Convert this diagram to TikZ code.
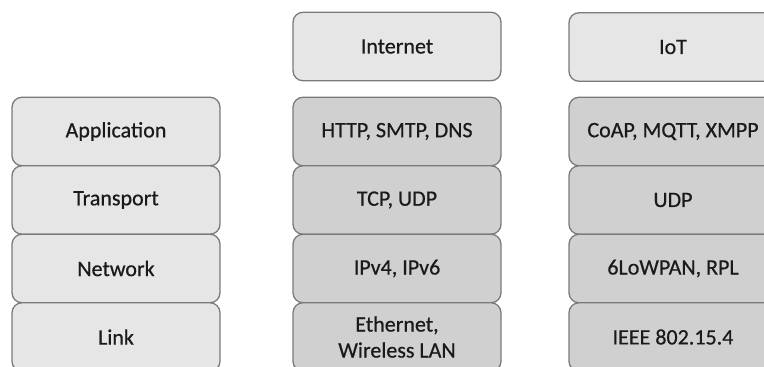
\documentclass[tikz,border=0pt]{standalone}
\usepackage{fontspec}
\setmainfont{Carlito}
% slightly heavier strokes for the box labels
\newfontfamily\labelfont{Carlito}[FakeBold=0.6]
\definecolor{boxedge}{HTML}{7A7A7A}
\definecolor{lightfill}{HTML}{E6E6E6}
\definecolor{darkfill}{HTML}{D0D0D0}
\definecolor{labeltext}{HTML}{1A1A1A}
\begin{document}
\begin{tikzpicture}[x=1pt,y=-1pt,
  layerbox/.style={draw=boxedge, line width=1.3pt, rounded corners=10pt,
    minimum width=208pt, minimum height=68.5pt, inner sep=2pt,
    text=labeltext, font=\labelfont\fontsize{22}{26}\selectfont, align=center},
  headbox/.style={layerbox, fill=lightfill},
  genbox/.style={layerbox, fill=lightfill},
  protobox/.style={layerbox, fill=darkfill}]
  \useasboundingbox (0,0) rectangle (764,367);

  % column headings
  \node[headbox] (internet) at (397,46.5) {Internet};
  \node[headbox] (iot) at (673,47) {IoT};

  % generic layer stack
  \node[genbox] (app) at (116,131.5) {Application};
  \node[genbox] (trans) at (116,200) {Transport};
  \node[genbox] (net) at (116,268.5) {Network};
  \node[genbox] (link) at (116,337) {Link};

  % Internet protocol stack
  \node[protobox] (http) at (397,131.5) {HTTP, SMTP, DNS};
  \node[protobox] (tcp) at (397,200) {TCP, UDP};
  \node[protobox] (ip) at (397,268.5) {IPv4, IPv6};
  \node[protobox] (eth) at (397,337) {Ethernet,\\Wireless LAN};

  % IoT protocol stack
  \node[protobox] (coap) at (673,131.5) {CoAP, MQTT, XMPP};
  \node[protobox] (udp) at (673,200) {UDP};
  \node[protobox] (lowpan) at (673,268.5) {6LoWPAN, RPL};
  \node[protobox] (ieee) at (673,337) {IEEE 802.15.4};
\end{tikzpicture}
\end{document}
